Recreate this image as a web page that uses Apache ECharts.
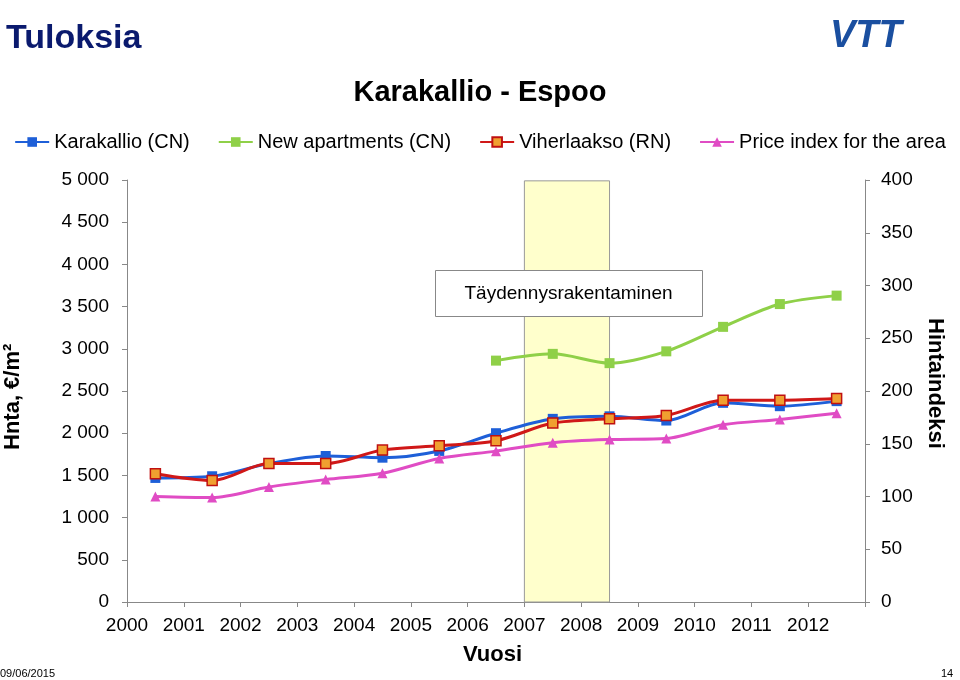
<!DOCTYPE html>
<html>
<head>
<meta charset="utf-8">
<script src="https://cdn.jsdelivr.net/npm/echarts@6/dist/echarts.min.js"></script>
<style>html,body{margin:0;padding:0;background:#fff}#chart{width:960px;height:680px}</style>
</head>
<body>
<div id="chart"></div>
<script>
var years = ['2000','2001','2002','2003','2004','2005','2006','2007','2008','2009','2010','2011','2012'];
var karakallio = [1470,1490,1640,1730,1710,1790,2000,2170,2200,2150,2360,2320,2380];
var uudet = [null,null,null,null,null,null,2860,2940,2830,2970,3260,3530,3630];
var viherlaakso = [1520,1440,1640,1640,1800,1850,1910,2120,2170,2210,2390,2390,2410];
var indeksi = [100,99,109,116,122,136,143,151,154,155,168,173,179];

function pts(arr) {
	var out = [];
	for (var i = 0; i < arr.length; i++) {
		if (arr[i] != null) out.push([i + 0.5, arr[i]]);
	}
	return out;
}
var fnt = 'Liberation Sans, Arial, sans-serif';

var option = {
	animation: false,
	grid: { left: 127, right: 95, top: 180, bottom: 78 },
	legend: {
		top: 127, left: 'center', itemGap: 28, itemWidth: 34, itemHeight: 12,
		textStyle: { fontSize: 20, fontFamily: fnt, color: '#000' },
		data: ['Karakallio (CN)', 'New apartments (CN)', 'Viherlaakso (RN)', 'Price index for the area']
	},
	graphic: [
		{ type: 'text', left: 6, top: 22, style: { text: 'Tuloksia', font: 'bold 34px ' + fnt, fill: '#0a1a6e' } },
		{ type: 'text', left: 830, top: 18, style: { text: 'VTT', font: 'italic bold 38px ' + fnt, fill: '#1a4fa0' } },
		{ type: 'text', left: 'center', top: 78, style: { text: 'Karakallio - Espoo', font: 'bold 29px ' + fnt, fill: '#000' } },
		{ type: 'text', left: 463, top: 644, style: { text: 'Vuosi', font: 'bold 22px ' + fnt, fill: '#000' } },
		{ type: 'text', left: 0, top: 668, style: { text: '09/06/2015', font: '11px ' + fnt, fill: '#000' } },
		{ type: 'text', left: 941, top: 668, style: { text: '14', font: '11px ' + fnt, fill: '#000' } },
		{ type: 'text', x: 2, y: 450, rotation: Math.PI / 2, style: { text: 'Hnta, €/m²', font: 'bold 22px ' + fnt, fill: '#000' } },
		{ type: 'text', x: 946, y: 318, rotation: -Math.PI / 2, style: { text: 'Hintaindeksi', font: 'bold 22px ' + fnt, fill: '#000' } },
		{ type: 'group', left: 435, top: 270, z: 100, children: [
			{ type: 'rect', z: 100, shape: { x: 0, y: 0, width: 267, height: 46 }, style: { fill: '#fff', stroke: '#888', lineWidth: 1 } },
			{ type: 'text', z: 101, x: 133, y: 23, style: { text: 'Täydennysrakentaminen', font: '19px ' + fnt, fill: '#000', align: 'center', verticalAlign: 'middle' } }
		] }
	],
	xAxis: {
		type: 'value', min: 0, max: 13, interval: 1,
		axisLine: { show: true, lineStyle: { color: '#888' } },
		axisTick: { show: true, lineStyle: { color: '#888' } },
		splitLine: { show: false },
		axisLabel: {
			fontSize: 19, fontFamily: fnt, color: '#000', margin: 14,
			formatter: function (v) { return v < years.length ? years[v] : ''; }
		}
	},
	yAxis: [{
		type: 'value', min: 0, max: 5000, interval: 500,
		axisLine: { show: true, lineStyle: { color: '#888' } },
		axisTick: { show: true, lineStyle: { color: '#888' } },
		splitLine: { show: false },
		axisLabel: {
			fontSize: 19, fontFamily: fnt, color: '#000', margin: 18,
			formatter: function (v) { return v >= 1000 ? Math.floor(v / 1000) + ' ' + ('00' + (v % 1000)).slice(-3) : String(v); }
		}
	}, {
		type: 'value', min: 0, max: 400, interval: 50,
		axisLine: { show: true, lineStyle: { color: '#888' } },
		axisTick: { show: true, lineStyle: { color: '#888' } },
		splitLine: { show: false },
		axisLabel: { fontSize: 19, fontFamily: fnt, color: '#000', margin: 16 }
	}],
	series: [{
		name: 'Karakallio (CN)', type: 'line', smooth: 0.3, data: pts(karakallio),
		symbol: 'rect', symbolSize: 10, color: '#1e5fd8', lineStyle: { width: 3 },
		markArea: {
			silent: true,
			itemStyle: { color: '#ffffcc', borderColor: '#999', borderWidth: 1 },
			data: [[{ xAxis: 7, yAxis: 0 }, { xAxis: 8.5, yAxis: 4990 }]]
		},
		z: 3
	}, {
		name: 'New apartments (CN)', type: 'line', smooth: 0.3, data: pts(uudet),
		symbol: 'rect', symbolSize: 10, color: '#8fd048', lineStyle: { width: 3 }, z: 3
	}, {
		name: 'Viherlaakso (RN)', type: 'line', smooth: 0.3, data: pts(viherlaakso),
		symbol: 'rect', symbolSize: 10, color: '#d01818',
		itemStyle: { color: '#f0a030', borderColor: '#c01010', borderWidth: 1.5 },
		lineStyle: { width: 3, color: '#d01818' }, z: 4
	}, {
		name: 'Price index for the area', type: 'line', smooth: 0.3, yAxisIndex: 1, data: pts(indeksi),
		symbol: 'triangle', symbolSize: 10, color: '#e04cc4', lineStyle: { width: 3 }, z: 3
	}]
};
var myChart = echarts.init(document.getElementById('chart'));
myChart.setOption(option);
</script>
</body>
</html>
